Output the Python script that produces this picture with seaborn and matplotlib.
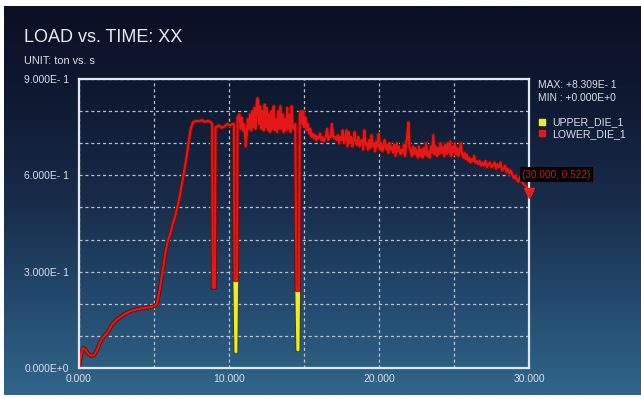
import numpy as np
import pandas as pd
import matplotlib
matplotlib.use("Agg")
import matplotlib.pyplot as plt
import matplotlib.patheffects as pe
import matplotlib.transforms as mtransforms
from matplotlib.colors import LinearSegmentedColormap
from matplotlib.lines import Line2D
import seaborn as sns

# ---------------- data ----------------
rise_time = [0.0, 0.1, 0.25, 0.4, 0.6, 0.8, 1.0, 1.2, 1.4, 1.6,
             1.9, 2.2, 2.5, 2.8, 3.2, 3.6, 4.0, 4.5, 5.0, 5.2,
             5.4, 5.6, 5.8, 5.95, 6.1, 6.25, 6.4, 6.55, 6.7, 6.85,
             7.0, 7.15, 7.3, 7.45, 7.6, 7.8, 8.0, 8.2, 8.4, 8.6,
             8.8]
rise_load = [0.0, 0.03, 0.062, 0.058, 0.045, 0.038, 0.04, 0.055, 0.08, 0.095,
             0.11, 0.135, 0.15, 0.16, 0.172, 0.18, 0.184, 0.188, 0.192, 0.2,
             0.25, 0.31, 0.37, 0.40, 0.42, 0.45, 0.47, 0.50, 0.53, 0.57,
             0.61, 0.65, 0.70, 0.745, 0.765, 0.77, 0.768, 0.772, 0.766, 0.77,
             0.765]

dip1_time = [8.88, 8.92, 9.06, 9.10, 9.35, 9.5, 9.7, 9.9, 10.1, 10.22]
dip1_load = [0.76, 0.25, 0.25, 0.75, 0.755, 0.748, 0.752, 0.76, 0.755, 0.76]

dip2_time = [10.33, 10.37, 10.44, 10.48, 10.53, 10.57]
dip2_lower = [0.76, 0.274, 0.274, 0.274, 0.274, 0.78]
dip2_upper = [0.76, 0.274, 0.05, 0.05, 0.274, 0.78]

mid_time = [10.7, 10.78, 10.85, 10.93, 11.0, 11.08, 11.12, 11.18, 11.25, 11.33,
            11.4, 11.48, 11.55, 11.62, 11.7, 11.78, 11.85, 11.92, 12.0, 12.08,
            12.15, 12.22, 12.3, 12.38, 12.45, 12.52, 12.6, 12.68, 12.75, 12.82,
            12.9, 12.98, 13.05, 13.12, 13.2, 13.28, 13.35, 13.42, 13.5, 13.58,
            13.65, 13.72, 13.8, 13.88, 13.95, 14.02, 14.1, 14.18, 14.25, 14.3]
mid_load = [0.79, 0.745, 0.78, 0.74, 0.76, 0.72, 0.69, 0.73, 0.775, 0.745,
            0.79, 0.74, 0.80, 0.75, 0.81, 0.745, 0.825, 0.84, 0.76, 0.815,
            0.745, 0.80, 0.74, 0.82, 0.75, 0.81, 0.74, 0.79, 0.735, 0.80,
            0.745, 0.815, 0.74, 0.775, 0.735, 0.80, 0.745, 0.815, 0.745, 0.79,
            0.735, 0.775, 0.74, 0.81, 0.745, 0.79, 0.735, 0.815, 0.75, 0.745]

dip3_time = [14.42, 14.5, 14.57, 14.62, 14.66, 14.72]
dip3_lower = [0.76, 0.243, 0.243, 0.243, 0.243, 0.79]
dip3_upper = [0.76, 0.243, 0.056, 0.056, 0.243, 0.79]

tail_time = [14.8, 14.88, 14.95, 15.02, 15.1, 15.18, 15.26, 15.34, 15.42, 15.5,
             15.58, 15.66, 15.74, 15.82, 15.9, 15.98, 16.06, 16.14, 16.22, 16.3,
             16.38, 16.46, 16.54, 16.62, 16.7, 16.78, 16.86, 16.94, 17.02, 17.1,
             17.18, 17.26, 17.34, 17.42, 17.5, 17.58, 17.66, 17.74, 17.82, 17.9,
             17.98, 18.06, 18.14, 18.22, 18.3, 18.38, 18.46, 18.54, 18.62, 18.7,
             18.78, 18.86, 18.94, 19.02, 19.1, 19.18, 19.26, 19.34, 19.42, 19.5,
             19.58, 19.66, 19.74, 19.82, 19.9, 19.98, 20.06, 20.14, 20.22, 20.3,
             20.38, 20.46, 20.54, 20.62, 20.7, 20.78, 20.86, 20.94, 21.02, 21.1,
             21.18, 21.26, 21.34, 21.42, 21.5, 21.58, 21.66, 21.74, 21.82, 21.9,
             21.96, 22.02, 22.1, 22.18, 22.26, 22.34, 22.42, 22.5, 22.58, 22.66,
             22.74, 22.82, 22.9, 22.98, 23.06, 23.14, 23.22, 23.3, 23.38, 23.46,
             23.54, 23.62, 23.7, 23.78, 23.86, 23.94, 24.02, 24.1, 24.18, 24.26,
             24.34, 24.42, 24.5, 24.58, 24.66, 24.74, 24.82, 24.9, 24.98, 25.06,
             25.14, 25.22, 25.3, 25.38, 25.46, 25.54, 25.62, 25.7, 25.78, 25.86,
             25.94, 26.02, 26.1, 26.18, 26.26, 26.34, 26.42, 26.5, 26.6, 26.7,
             26.8, 26.9, 27.0, 27.1, 27.2, 27.3, 27.4, 27.5, 27.6, 27.7,
             27.8, 27.9, 28.0, 28.1, 28.2, 28.3, 28.4, 28.5, 28.6, 28.7,
             28.8, 28.9, 29.0, 29.1, 29.2, 29.3, 29.4, 29.5, 29.6, 29.7,
             29.8, 29.9, 30.0]
tail_load = [0.80, 0.76, 0.80, 0.75, 0.78, 0.74, 0.76, 0.73, 0.745, 0.72,
             0.73, 0.715, 0.725, 0.71, 0.72, 0.715, 0.73, 0.71, 0.72, 0.705,
             0.715, 0.72, 0.745, 0.71, 0.72, 0.72, 0.76, 0.72, 0.715, 0.72,
             0.71, 0.725, 0.70, 0.72, 0.71, 0.74, 0.70, 0.715, 0.74, 0.69,
             0.735, 0.70, 0.72, 0.69, 0.71, 0.735, 0.70, 0.695, 0.72, 0.69,
             0.705, 0.71, 0.68, 0.74, 0.695, 0.70, 0.68, 0.71, 0.685, 0.725,
             0.69, 0.70, 0.675, 0.705, 0.69, 0.73, 0.68, 0.70, 0.675, 0.69,
             0.71, 0.68, 0.695, 0.67, 0.70, 0.68, 0.69, 0.67, 0.695, 0.66,
             0.70, 0.675, 0.69, 0.665, 0.68, 0.67, 0.695, 0.66, 0.70, 0.73,
             0.765, 0.69, 0.675, 0.66, 0.69, 0.665, 0.685, 0.67, 0.655, 0.69,
             0.66, 0.68, 0.655, 0.685, 0.665, 0.70, 0.66, 0.675, 0.655, 0.69,
             0.67, 0.725, 0.665, 0.69, 0.66, 0.685, 0.665, 0.70, 0.67, 0.69,
             0.66, 0.695, 0.665, 0.70, 0.67, 0.705, 0.66, 0.69, 0.67, 0.70,
             0.665, 0.685, 0.66, 0.675, 0.70, 0.665, 0.655, 0.67, 0.65, 0.665,
             0.645, 0.655, 0.64, 0.65, 0.645, 0.66, 0.64, 0.645, 0.635, 0.645,
             0.63, 0.64, 0.63, 0.645, 0.625, 0.635, 0.64, 0.625, 0.63, 0.64,
             0.62, 0.635, 0.625, 0.64, 0.615, 0.62, 0.63, 0.61, 0.62, 0.605,
             0.615, 0.60, 0.59, 0.60, 0.585, 0.58, 0.595, 0.58, 0.575, 0.57,
             0.565, 0.56, 0.555]

x_ticks = [0, 10, 20, 30]
x_tick_labels = ["0.000", "10.000", "20.000", "30.000"]
y_ticks = [0.0, 0.3, 0.6, 0.9]
y_tick_labels = ["0.000E+0", "3.000E- 1", "6.000E- 1", "9.000E- 1"]
x_minor = [5, 15, 25]
y_minor = [0.1, 0.2, 0.4, 0.5, 0.7, 0.8]

series_names = ["UPPER_DIE_1", "LOWER_DIE_1"]
series_colors = {"UPPER_DIE_1": "#f2ee1e", "LOWER_DIE_1": "#e41818"}

cursor_time = 30.0
cursor_load = 0.522
max_text = "MAX: +8.309E- 1"
min_text = "MIN : +0.000E+0"

# ---------------- build table ----------------
time_all = rise_time + dip1_time + dip2_time + mid_time + dip3_time + tail_time
lower_all = rise_load + dip1_load + dip2_lower + mid_load + dip3_lower + tail_load
upper_all = rise_load + dip1_load + dip2_upper + mid_load + dip3_upper + tail_load
assert len(time_all) == len(lower_all) == len(upper_all)
n = len(time_all)
df = pd.DataFrame({
    "time": time_all + time_all,
    "load": upper_all + lower_all,
    "die": [series_names[0]] * n + [series_names[1]] * n,
})

# ---------------- figure ----------------
W, H = 641, 398
plt.rcParams["font.family"] = ["Liberation Sans", "DejaVu Sans"]
fig = plt.figure(figsize=(W / 100, H / 100), dpi=100, facecolor="white")

# background gradient
bg = fig.add_axes([4 / W, 3 / H, (W - 4) / W, (H - 9) / H])
cmap = LinearSegmentedColormap.from_list(
    "bgc", [(0.0, "#0c0f24"), (0.25, "#0f1a33"), (0.5, "#182c4a"),
            (0.76, "#234a6e"), (1.0, "#30668a")])
grad = np.linspace(0, 1, 256).reshape(-1, 1)
bg.imshow(grad, aspect="auto", cmap=cmap, extent=[0, 1, 0, 1], origin="upper")
bg.set_axis_off()

ax = fig.add_axes([79 / W, 30 / H, 450 / W, 289 / H])
ax.set_facecolor("none")

text_col = "#d9dfe7"

sns.lineplot(data=df[df["die"] == series_names[0]], x="time", y="load",
             color=series_colors[series_names[0]], linewidth=1.7,
             estimator=None, sort=False, legend=False, ax=ax)
ax.lines[-1].set_path_effects([pe.Stroke(linewidth=2.8, foreground="#3d3a05"), pe.Normal()])
sns.lineplot(data=df[df["die"] == series_names[1]], x="time", y="load",
             color=series_colors[series_names[1]], linewidth=1.6,
             estimator=None, sort=False, legend=False, ax=ax)
ax.lines[-1].set_path_effects([pe.Stroke(linewidth=2.7, foreground="#6a0808"), pe.Normal()])

ax.set_xlim(0, 30)
ax.set_ylim(0, 0.9)
ax.set_xticks(x_ticks)
ax.set_xticklabels(x_tick_labels)
ax.set_yticks(y_ticks)
ax.set_yticklabels(y_tick_labels, ha="left")
ax.set_xticks(x_minor, minor=True)
ax.set_yticks(y_minor, minor=True)
ax.tick_params(axis="both", which="both", length=0, labelsize=7.5, labelcolor=text_col)
ax.tick_params(axis="y", pad=39.5)
ax.tick_params(axis="x", pad=4)
ax.set_xlabel("")
ax.set_ylabel("")
ax.grid(which="both", color="#c9d2de", linestyle=(0, (2.5, 2.2)), linewidth=0.9, alpha=0.9)
ax.set_axisbelow(True)
for s in ax.spines.values():
    s.set_color("#e2e8ef")
    s.set_linewidth(1.6)
    s.set_zorder(5)

# titles
fig.text(24 / W, 1 - 38 / H, "LOAD vs. TIME: XX", fontsize=13, color="#e6ebf0",
         ha="left", va="center")
fig.text(24 / W, 1 - 61 / H, "UNIT: ton vs. s", fontsize=7.8, color=text_col,
         ha="left", va="center")

# max / min
fig.text(538 / W, 1 - 85 / H, max_text, fontsize=7.4, color=text_col, ha="left", va="center")
fig.text(538 / W, 1 - 98 / H, min_text, fontsize=7.4, color=text_col, ha="left", va="center")

# legend
handles = [Line2D([], [], linestyle="none", marker="s", markersize=5,
                  markerfacecolor=series_colors[nm], markeredgecolor=series_colors[nm])
           for nm in series_names]
leg = fig.legend(handles, series_names, loc="upper left",
                 bbox_to_anchor=(534 / W, 1 - 113 / H), frameon=False,
                 fontsize=7.6, labelcolor=text_col, handlelength=0.8,
                 handletextpad=0.5, labelspacing=0.15, borderaxespad=0)

# cursor readout
trans = mtransforms.offset_copy(ax.transData, fig=fig, x=0, y=7, units="dots")
ax.plot([cursor_time], [cursor_load], marker="v", markersize=7, color="#e82020",
        markeredgecolor="#e82020", transform=trans, clip_on=False, zorder=6)
fig.text(522 / W, 1 - 175 / H, f"({cursor_time:.3f}, {cursor_load:.3f})",
         fontsize=7.2, color="#c41c1c", ha="left", va="center",
         bbox=dict(boxstyle="square,pad=0.25", facecolor="black", edgecolor="none"))

fig.savefig("out.png", dpi=100, facecolor="white")
